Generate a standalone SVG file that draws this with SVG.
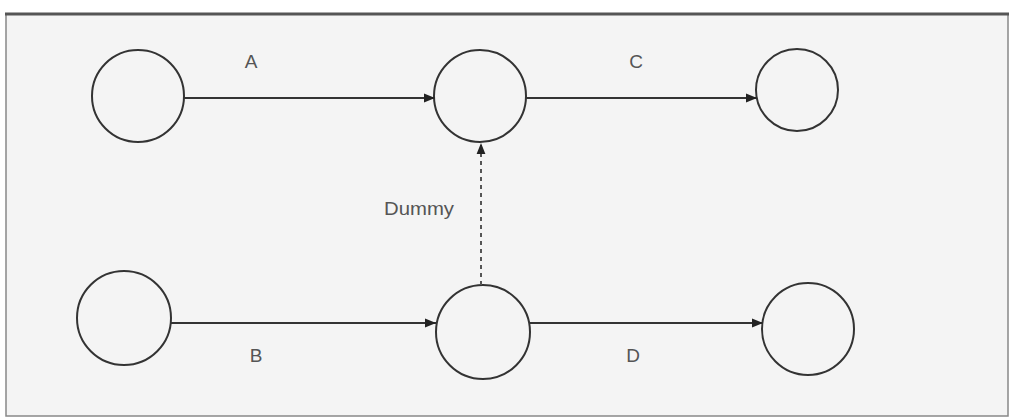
<svg xmlns="http://www.w3.org/2000/svg" width="1014" height="417" viewBox="0 0 1014 417">
<defs>
<marker id="arr" viewBox="0 0 10 10" refX="10" refY="5" markerWidth="11" markerHeight="11" markerUnits="userSpaceOnUse" orient="auto">
<path d="M0,1 L10,5 L0,9 Z" fill="#222"/>
</marker>
</defs>
<style>
.node{fill:none;stroke:#333;stroke-width:2}
.edge{stroke:#333;stroke-width:2;fill:none;marker-end:url(#arr)}
.dash{stroke-dasharray:4,4;stroke:#555}
.lbl{font-family:"Liberation Sans",Arial,sans-serif;font-size:19px;fill:#555}
</style>
<rect x="0" y="0" width="1014" height="417" fill="#ffffff"/>
<rect x="6" y="14" width="1002" height="402" fill="#f4f4f4" stroke="#888" stroke-width="1.5"/>
<line x1="5" y1="14" x2="1009" y2="14" stroke="#555" stroke-width="3"/>
<g id="n1"><circle class="node" cx="138" cy="96" r="46"/></g>
<g id="n2"><circle class="node" cx="480" cy="96" r="46"/></g>
<g id="n3"><circle class="node" cx="797" cy="90" r="41"/></g>
<g id="n4"><circle class="node" cx="124" cy="318" r="47"/></g>
<g id="n5"><circle class="node" cx="483" cy="332" r="47"/></g>
<g id="n6"><circle class="node" cx="808" cy="329" r="46"/></g>
<g id="edges">
<line class="edge" x1="184" y1="98" x2="435" y2="98"/>
<line class="edge" x1="526" y1="98" x2="757" y2="98"/>
<line class="edge" x1="171" y1="323" x2="436" y2="323"/>
<line class="edge" x1="530" y1="323" x2="763" y2="323"/>
<line class="edge dash" x1="481" y1="285" x2="481" y2="143"/>
</g>
<text class="lbl" x="251" y="68" text-anchor="middle">A</text>
<text class="lbl" x="636" y="68" text-anchor="middle">C</text>
<text class="lbl" x="419" y="215" text-anchor="middle" textLength="70" lengthAdjust="spacingAndGlyphs">Dummy</text>
<text class="lbl" x="256" y="362" text-anchor="middle">B</text>
<text class="lbl" x="633" y="362" text-anchor="middle">D</text>
</svg>
